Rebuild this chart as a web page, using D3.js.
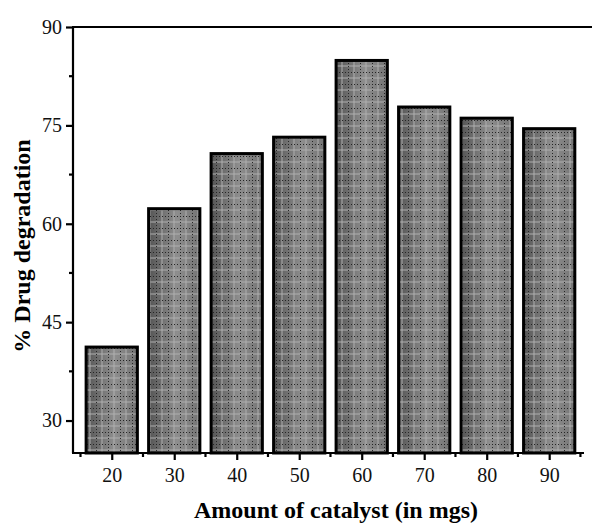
<!DOCTYPE html>
<html>
<head>
<meta charset="utf-8">
<script src="https://cdn.jsdelivr.net/npm/d3@7"></script>
<style>
  body { margin: 0; background: #fff; }
  svg text { font-family: "Liberation Serif", "Times New Roman", serif; }
</style>
</head>
<body>
<svg id="chart" width="592" height="525"></svg>
<script>
// Catalyst amounts (mg) and resulting drug degradation (%)
const catalystAmounts = [20, 30, 40, 50, 60, 70, 80, 90];
const degradation = [41.2, 62.3, 70.7, 73.2, 84.9, 77.8, 76.1, 74.5];
const yTickValues = [30, 45, 60, 75, 90];
const yMinorTicks = [37.5, 52.5, 67.5, 82.5];
const xMinorTicks = [15, 25, 35, 45, 55, 65, 75, 85, 95];

const svg = d3.select("#chart");
const plotLeft = 73, plotRight = 592, plotTop = 27, plotBottom = 453;

const x = d3.scaleLinear().domain([13.8, 96.85]).range([plotLeft, plotRight]);
const y = d3.scaleLinear().domain([25.05, 90]).range([plotBottom, plotTop]);
const barWidth = x(28.2) - x(20);

const defs = svg.append("defs");
const grad = defs.append("linearGradient").attr("id", "barGrad")
  .attr("x1", "0%").attr("x2", "100%").attr("y1", "0%").attr("y2", "0%");
grad.append("stop").attr("offset", "0%").attr("stop-color", "#555");
grad.append("stop").attr("offset", "55%").attr("stop-color", "#8e8e8e");
grad.append("stop").attr("offset", "100%").attr("stop-color", "#747474");

// grid texture: lighter solid lines plus dark dotted lines
const pat = defs.append("pattern").attr("id", "barGrid")
  .attr("patternUnits", "userSpaceOnUse").attr("width", 12).attr("height", 12);
pat.append("line").attr("x1", 6).attr("x2", 6).attr("y1", 0).attr("y2", 12)
  .attr("stroke", "rgba(175,175,175,0.5)").attr("stroke-width", 2);
pat.append("line").attr("x1", 0).attr("x2", 12).attr("y1", 6).attr("y2", 6)
  .attr("stroke", "rgba(175,175,175,0.5)").attr("stroke-width", 2);
pat.append("line").attr("x1", 0.5).attr("x2", 0.5).attr("y1", 0).attr("y2", 12)
  .attr("stroke", "#262626").attr("stroke-width", 1).attr("stroke-dasharray", "1,2");
pat.append("line").attr("x1", 0).attr("x2", 12).attr("y1", 0.5).attr("y2", 0.5)
  .attr("stroke", "#262626").attr("stroke-width", 1).attr("stroke-dasharray", "1,2");

const data = catalystAmounts.map((c, i) => ({ c, v: degradation[i] }));
const bars = svg.append("g");
bars.selectAll("rect.fillg").data(data).join("rect").attr("class", "fillg")
  .attr("x", d => x(d.c) - barWidth / 2).attr("y", d => y(d.v))
  .attr("width", barWidth).attr("height", d => plotBottom - y(d.v))
  .attr("fill", "url(#barGrad)");
bars.selectAll("rect.fillp").data(data).join("rect").attr("class", "fillp")
  .attr("x", d => x(d.c) - barWidth / 2).attr("y", d => y(d.v))
  .attr("width", barWidth).attr("height", d => plotBottom - y(d.v))
  .attr("fill", "url(#barGrid)");
bars.selectAll("rect.edge").data(data).join("rect").attr("class", "edge")
  .attr("x", d => x(d.c) - barWidth / 2).attr("y", d => y(d.v))
  .attr("width", barWidth).attr("height", d => plotBottom - y(d.v))
  .attr("fill", "none").attr("stroke", "#000").attr("stroke-width", 3);

// Y axis
const yAxis = svg.append("g").attr("transform", `translate(${plotLeft},0)`)
  .call(d3.axisLeft(y).tickValues(yTickValues).tickSize(7).tickSizeOuter(0));
yAxis.attr("font-size", 20);
yAxis.select(".domain").attr("stroke-width", 2.2).attr("d", `M0,${plotTop}V${plotBottom}`);
yAxis.selectAll(".tick line").attr("stroke-width", 2.2);
yAxis.selectAll(".tick text").attr("font-size", 20).attr("fill", "#111").attr("x", -11);
svg.append("g").selectAll("line").data(yMinorTicks).join("line")
  .attr("x1", plotLeft - 4).attr("x2", plotLeft).attr("y1", d => y(d)).attr("y2", d => y(d))
  .attr("stroke", "#000").attr("stroke-width", 2.2);

// X axis
const xAxis = svg.append("g").attr("transform", `translate(0,${plotBottom})`)
  .call(d3.axisBottom(x).tickValues(catalystAmounts).tickSize(7).tickSizeOuter(0));
xAxis.attr("font-size", 20);
xAxis.select(".domain").attr("stroke-width", 2.2).attr("d", `M${plotLeft - 1},0H584`);
xAxis.selectAll(".tick line").attr("stroke-width", 2.2);
xAxis.selectAll(".tick text").attr("font-size", 20).attr("fill", "#111").attr("y", 15);
svg.append("g").selectAll("line").data(xMinorTicks).join("line")
  .attr("x1", d => x(d)).attr("x2", d => x(d)).attr("y1", plotBottom).attr("y2", plotBottom + 4)
  .attr("stroke", "#000").attr("stroke-width", 2.2);

// top frame line
svg.append("line").attr("x1", plotLeft - 1).attr("x2", plotRight).attr("y1", plotTop).attr("y2", plotTop)
  .attr("stroke", "#000").attr("stroke-width", 2.2);

// axis titles
svg.append("text").attr("x", 336).attr("y", 518).attr("text-anchor", "middle")
  .attr("font-size", 24).attr("font-weight", "bold").text("Amount of catalyst (in mgs)");
svg.append("text").attr("transform", "translate(30,246) rotate(-90)")
  .attr("text-anchor", "middle").attr("font-size", 24).attr("font-weight", "bold")
  .text("% Drug degradation");
</script>
</body>
</html>
